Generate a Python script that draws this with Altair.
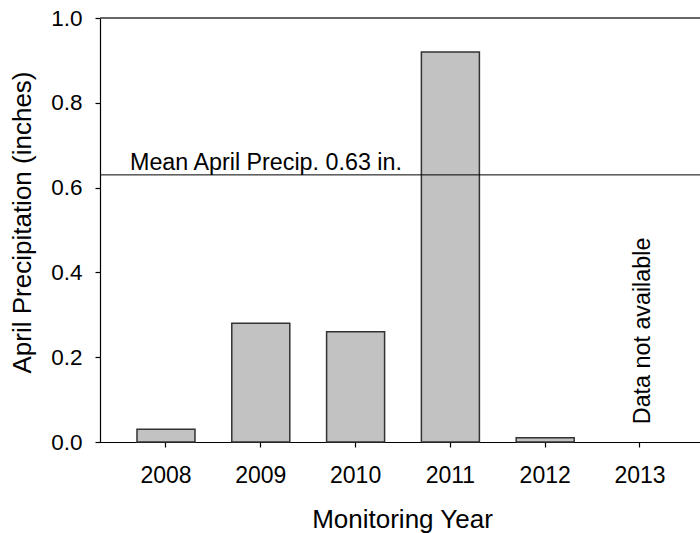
import altair as alt
import pandas as pd

# ---- data ----
years = ["2008", "2009", "2010", "2011", "2012", "2013"]
precip = [0.03, 0.28, 0.26, 0.92, 0.01, None]   # 2013: data not available
mean_precip = 0.63
mean_label = "Mean April Precip. 0.63 in."
na_year = "2013"
na_label = "Data not available"
na_y = 0.262
y_ticks = [0.0, 0.2, 0.4, 0.6, 0.8, 1.0]
y_top = 1.0

FONT = "Liberation Sans"

df = pd.DataFrame({"year": years, "precip": precip})
bars_df = df.dropna()
mean_df = pd.DataFrame({"precip": [mean_precip], "label": [mean_label]})
na_df = pd.DataFrame({"year": [na_year], "precip": [na_y], "label": [na_label]})
top_df = pd.DataFrame({"precip": [y_top]})

xscale = alt.Scale(domain=years, paddingInner=0.388, paddingOuter=0.3585,
                   align=0.544, round=False)
yscale = alt.Scale(domain=[0, 1], nice=False, zero=True)

XTITLE = "Monitoring Year"
YTITLE = "April Precipitation (inches)"

x_axis = alt.Axis(labelAngle=0, tickSize=5, labelPadding=17, labelFontSize=23,
                  titleX=302, titleY=85, titleBaseline="alphabetic",
                  titleAlign="center")
y_axis = alt.Axis(values=y_ticks, format=".1f", tickSize=5, labelFontSize=22.5,
                  labelPadding=13, grid=False,
                  titleX=-70, titleY=204, titleAngle=270,
                  titleBaseline="alphabetic", titleAlign="center")


def xenc():
    return alt.X("year:N", scale=xscale, title=XTITLE, axis=x_axis)


def yenc():
    return alt.Y("precip:Q", scale=yscale, title=YTITLE, axis=y_axis)


bars = alt.Chart(bars_df).mark_bar(
    fill="#c2c2c2", stroke="#333333", strokeWidth=1.5
).encode(x=xenc(), y=yenc())

top_rule = alt.Chart(top_df).mark_rule(color="#333333", strokeWidth=1.5).encode(
    y=yenc()
)

mean_rule = alt.Chart(mean_df).mark_rule(color="#000000", strokeWidth=1).encode(
    y=yenc()
)

mean_text = alt.Chart(mean_df).mark_text(
    align="left", baseline="alphabetic", dy=-5, fontSize=23.3, font=FONT, color="#000000"
).encode(
    x=alt.value(30),
    y=yenc(),
    text="label:N",
)

na_text = alt.Chart(na_df).mark_text(
    angle=270, align="center", baseline="middle", fontSize=23.3, font=FONT,
    color="#000000", dy=3
).encode(
    x=xenc(),
    y=yenc(),
    text="label:N",
)

chart = alt.layer(bars, top_rule, mean_rule, mean_text, na_text).properties(
    width=600,
    height=424,
    autosize=alt.AutoSizeParams(type="none"),
    padding={"left": 100, "top": 18, "right": 0, "bottom": 91},
    background="white",
).configure_view(
    stroke=None
).configure_axis(
    labelFont=FONT, titleFont=FONT,
    titleFontSize=26, titleFontWeight="normal",
    labelColor="#000000", titleColor="#000000",
    domainColor="#000000", tickColor="#000000",
    domainWidth=1.2, tickWidth=1.2,
)

chart.save("out.html", embed_options={"renderer": "svg", "actions": False})
